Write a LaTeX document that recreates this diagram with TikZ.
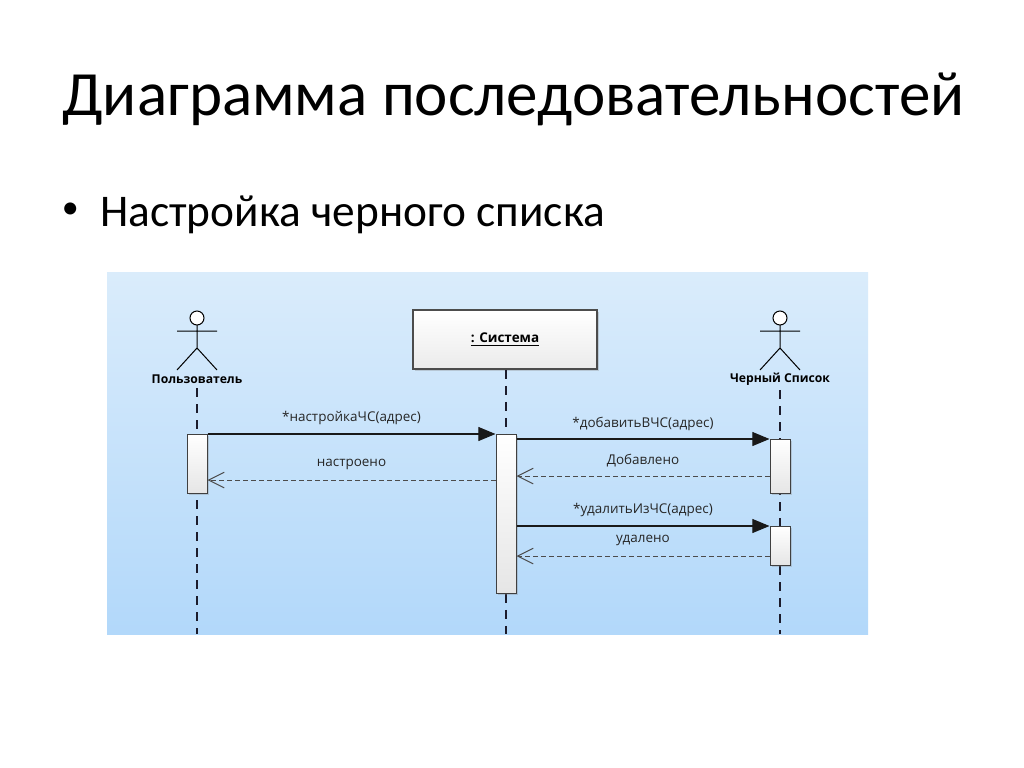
\documentclass[tikz,border=0pt]{standalone}
\usepackage{fontspec}
\setmainfont{Carlito}
\newfontfamily\umlfont{Open Sans}
\usetikzlibrary{positioning,arrows.meta,shadows}
\newlength\pxu
\setlength\pxu{0.703125bp}
\definecolor{bgtop}{HTML}{DAECFB}
\definecolor{bgbot}{HTML}{B2D8FA}
\definecolor{lifeln}{HTML}{1C1C2C}

\tikzset{
	actbox/.style={draw=black!75, line width=1\pxu, top color=white, bottom color=black!10,
		minimum width=20\pxu, inner sep=0pt, anchor=north,
		drop shadow={shadow xshift=1.5\pxu, shadow yshift=-1.5\pxu, opacity=0.3}},
	objbox/.style={draw=black!70, line width=1.6\pxu, top color=white, bottom color=black!8,
		minimum width=184\pxu, minimum height=59\pxu, inner sep=0pt,
		drop shadow={shadow xshift=2\pxu, shadow yshift=-2\pxu, opacity=0.3},
		font=\umlfont\bfseries\fontsize{9.5}{11}\selectfont},
	lifeline/.style={dash pattern=on 9\pxu off 7\pxu, line width=1.3\pxu, draw=lifeln},
	callmsg/.style={-{Triangle[length=12bp,width=9.8bp]}, line width=1.1\pxu, draw=black!90},
	retmsg/.style={-{Straight Barb[length=11bp,width=11bp]}, dash pattern=on 5\pxu off 3\pxu,
		line width=1\pxu, draw=black!70},
	msglabel/.style={font=\umlfont\fontsize{9.5}{11}\selectfont, text=black!85},
	actorname/.style={font=\umlfont\bfseries\fontsize{8.6}{11}\selectfont},
	pics/stickman/.style={code={
		\draw[line width=1\pxu] (0,7) -- (0,30) (-20,13) -- (20,13) (-20,52) -- (0,30) -- (20,52);
		\draw[line width=1\pxu, fill=white] (0,0) circle[radius=7\pxu];
	}}
}

\begin{document}
\begin{tikzpicture}[x=\pxu,y=-\pxu]
	\useasboundingbox[fill=white] (0,0) rectangle (1024,767);

	% slide texts
	\node[anchor=base west, inner sep=0pt, font=\fontsize{44.5}{50}\selectfont] (title) at (62,115) {Диаграмма последовательностей};
	\node[anchor=base west, inner sep=0pt, font=\fontsize{24}{28}\selectfont] (bul) at (61.5,218) {•};
	\node[anchor=base west, inner sep=0pt, font=\fontsize{32}{38}\selectfont] (sub) at (100,226) {Настройка черного списка};

	% diagram background
	\fill[top color=bgtop, bottom color=bgbot] (107,272) rectangle (868,634);

	% lifelines heads
	\pic at (197,318) {stickman};
	\node[actorname] (uname) at (197,379) {Пользователь};
	\node[objbox] (sys) at (505,339.5) {\underline{: Система}};
	\pic at (780,318) {stickman};
	\node[actorname] (bname) at (780,379) {Черный Список};

	\coordinate (ubot) at (197,634);
	\coordinate (sbot) at (506,634);
	\coordinate (bbot) at (780,634);

	\draw[lifeline] (uname.south) -- (ubot);
	\draw[lifeline] (sys.south -| sbot) -- (sbot);
	\draw[lifeline] (bname.south) -- (bbot);

	% activations
	\node[actbox, minimum height=59\pxu] (ua) at (197,434) {};
	\node[actbox, minimum height=159\pxu] (sa) at (506,434) {};
	\node[actbox, minimum height=54\pxu] (ca) at (780,439) {};
	\node[actbox, minimum height=39\pxu] (cb) at (780,526) {};

	\coordinate (r1) at ([yshift=-46\pxu]sa.north west);
	\coordinate (r2) at ([yshift=-37\pxu]ca.north west);
	\coordinate (r3) at ([yshift=-30\pxu]cb.north west);

	% messages
	\draw[callmsg] (ua.north east) -- (sa.north west) node[msglabel, midway, yshift=16\pxu] {*настройкаЧС(адрес)};
	\draw[retmsg] (r1) -- (r1 -| ua.east) node[msglabel, midway, yshift=16\pxu] {настроено};
	\draw[callmsg] (ca.north west -| sa.east) -- (ca.north west) node[msglabel, midway, yshift=15\pxu] {*добавитьВЧС(адрес)};
	\draw[retmsg] (r2) -- (r2 -| sa.east) node[msglabel, midway, yshift=15\pxu] {Добавлено};
	\draw[callmsg] (cb.north west -| sa.east) -- (cb.north west) node[msglabel, midway, yshift=16\pxu] {*удалитьИзЧС(адрес)};
	\draw[retmsg] (r3) -- (r3 -| sa.east) node[msglabel, midway, yshift=16\pxu] {удалено};
\end{tikzpicture}
\end{document}
